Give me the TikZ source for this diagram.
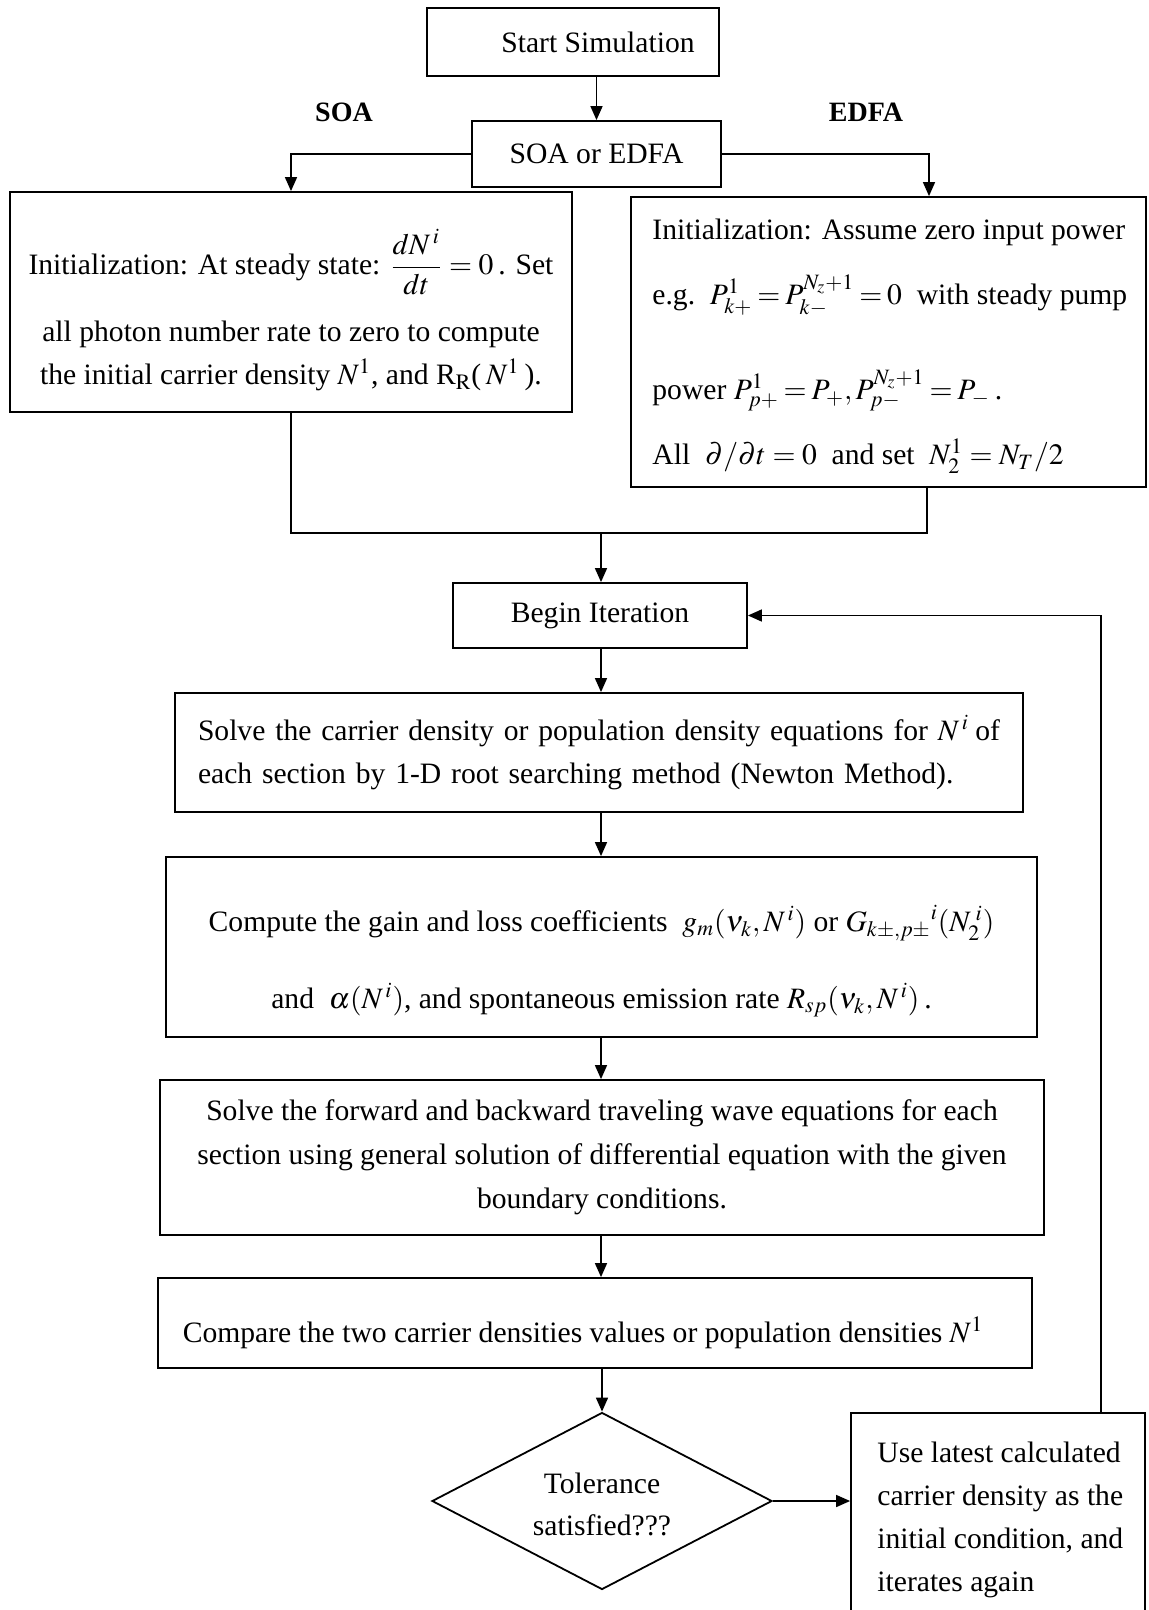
\documentclass[tikz,border=0pt]{standalone}
\usepackage{amsmath}
\usepackage{mathptmx}
\usepackage{fontspec}
\setmainfont{Liberation Serif}
\usetikzlibrary{arrows.meta,shapes.geometric}
\newcommand\bodyfs[1]{\fontsize{14.8pt}{#1}\selectfont}
\begin{document}
\begin{tikzpicture}[x=0.5pt,y=-0.5pt,
  box/.style={draw, line width=0.9pt, inner sep=0pt},
  txt/.style={font=\bodyfs{17pt}, inner sep=0pt},
  lbl/.style={font=\fontsize{14pt}{17pt}\selectfont\bfseries, inner sep=0pt},
  flow/.style={line width=0.8pt, -{Triangle[length=7pt,width=6pt]}},
  link/.style={line width=0.8pt},
]
\useasboundingbox (0,0) rectangle (1148,1610);

% top
\node[box, txt, minimum width=146pt, minimum height=34pt] (start) at (573,42) {\hspace*{25pt}Start Simulation};
\node[box, txt, minimum width=124.5pt, minimum height=33pt] (soaedfa) at (596.5,154) {SOA or EDFA};
\node[lbl] (soalbl) at (344,112) {SOA};
\node[lbl] (edfalbl) at (866,112) {EDFA};

% SOA init
\node[box, minimum width=281pt, minimum height=110pt] (soainit) at (291,302) {};
\node[txt, anchor=mid] (soa1) at (291,270) {Initialization: At steady state: $\dfrac{dN^{\,i}}{dt}=0$\,. Set};
\node[txt, anchor=mid] (soa2) at (291,337) {all photon number rate to zero to compute};
\node[txt, anchor=mid] (soa3) at (291,380) {the initial carrier density $N^1$, and R$_\mathrm{R}$(\,$N^1$\,).};

% EDFA init
\node[box, minimum width=257.5pt, minimum height=145pt] (edfainit) at (888.5,342) {};
\node[txt, anchor=mid west] (edfa1) at (652,235) {Initialization: Assume zero input power};
\node[txt, anchor=mid west] (edfa2) at (652,300)
  {e.g.\ \ $\thickmuskip=3mu P_{k+}^{1} = P_{k-}^{N_z+1} = 0$\ \ with steady pump};
\node[txt, anchor=mid west] (edfa3) at (652,395)
  {power $\thickmuskip=3mu P_{p+}^{1} = P_{+}, P_{p-}^{N_z+1} = P_{-}$\,.};
\node[txt, anchor=mid west] (edfa4) at (652,460)
  {All\ \ $\partial/\partial t = 0$\ \ and set\ \ $N_2^1 = N_T/2$};

% iteration
\node[box, txt, minimum width=147pt, minimum height=32.5pt] (begin) at (600,615.5) {Begin Iteration};
\node[box, minimum width=424pt, minimum height=59.5pt, inner xsep=11.5pt, inner ysep=0pt,
      text width=401pt, align=left, font=\bodyfs{21.5pt}] (solve1) at (599,752.5)
  {Solve the carrier density or population density equations for $N^{\,i}$\hfill of\\
   each section by 1-D root searching method (Newton Method).};

\node[box, minimum width=435.5pt, minimum height=90pt] (compute) at (601.5,947) {};
\node[inner sep=0pt, align=center, font=\bodyfs{38.5pt}] (computet) at (601.5,961.5)
  {Compute the gain and loss coefficients\ \ $g_m(\nu_k, N^{\,i})$ or ${G_{k\pm,p\pm}}^{i}(N_2^{\;i})$\\
   and\ \ $\alpha(N^{\,i})$, and spontaneous emission rate $R_{sp}(\nu_k, N^{\,i})$\,.};

\node[box, minimum width=442pt, minimum height=77.5pt, align=center, font=\bodyfs{22pt}] (forward) at (602,1157.5)
  {Solve the forward and backward traveling wave equations for each\\
   section using general solution of differential equation with the given\\
   boundary conditions.};

\node[box, minimum width=437pt, minimum height=45pt] (compare) at (595,1323) {};
\node[txt] (comparet) at (583,1333) {Compare the two carrier densities values or population densities $N^1$};

\node[diamond, draw, line width=0.9pt, aspect=1.92, minimum width=170pt, minimum height=88.5pt,
      inner sep=0pt, align=center, font=\bodyfs{21pt}] (tol) at (602,1501) {\rule{0pt}{14pt}Tolerance\\satisfied???};

\node[box, minimum width=147pt, minimum height=110pt] (uselatest) at (998,1523) {};
\node[inner sep=0pt, anchor=west, align=left, font=\bodyfs{21.5pt}] (uselatestt) at (877,1519.5)
  {Use latest calculated\\carrier density as the\\initial condition, and\\iterates again};

% connectors
\coordinate (cx) at (601,0);
\coordinate (edfaturn) at (929,154);
\coordinate (mergeR) at (927,533);
\coordinate (mergeC) at (601,533);
\coordinate (fb) at (1101,615.5);

\draw[flow] (start.south -| soaedfa.north) -- (soaedfa.north);
\draw[flow] (soaedfa.west) -| (soainit.north);
\draw[flow] (soaedfa.east) -- (edfaturn) -- (edfaturn |- edfainit.north);
\draw[link] (soainit.south) |- (mergeR) -- (mergeR |- edfainit.south);
\draw[flow] (mergeC) -- (begin.north -| cx);
\draw[flow] (begin.south -| cx) -- (solve1.north -| cx);
\draw[flow] (solve1.south -| cx) -- (compute.north -| cx);
\draw[flow] (compute.south -| cx) -- (forward.north -| cx);
\draw[flow] (forward.south -| cx) -- (compare.north -| cx);
\draw[flow] (compare.south -| tol.north) -- (tol.north);
\draw[flow] (tol.east) -- (uselatest.west |- tol.east);
\draw[flow] (uselatest.north -| fb) -- (fb) -- (begin.east);
\end{tikzpicture}
\end{document}
